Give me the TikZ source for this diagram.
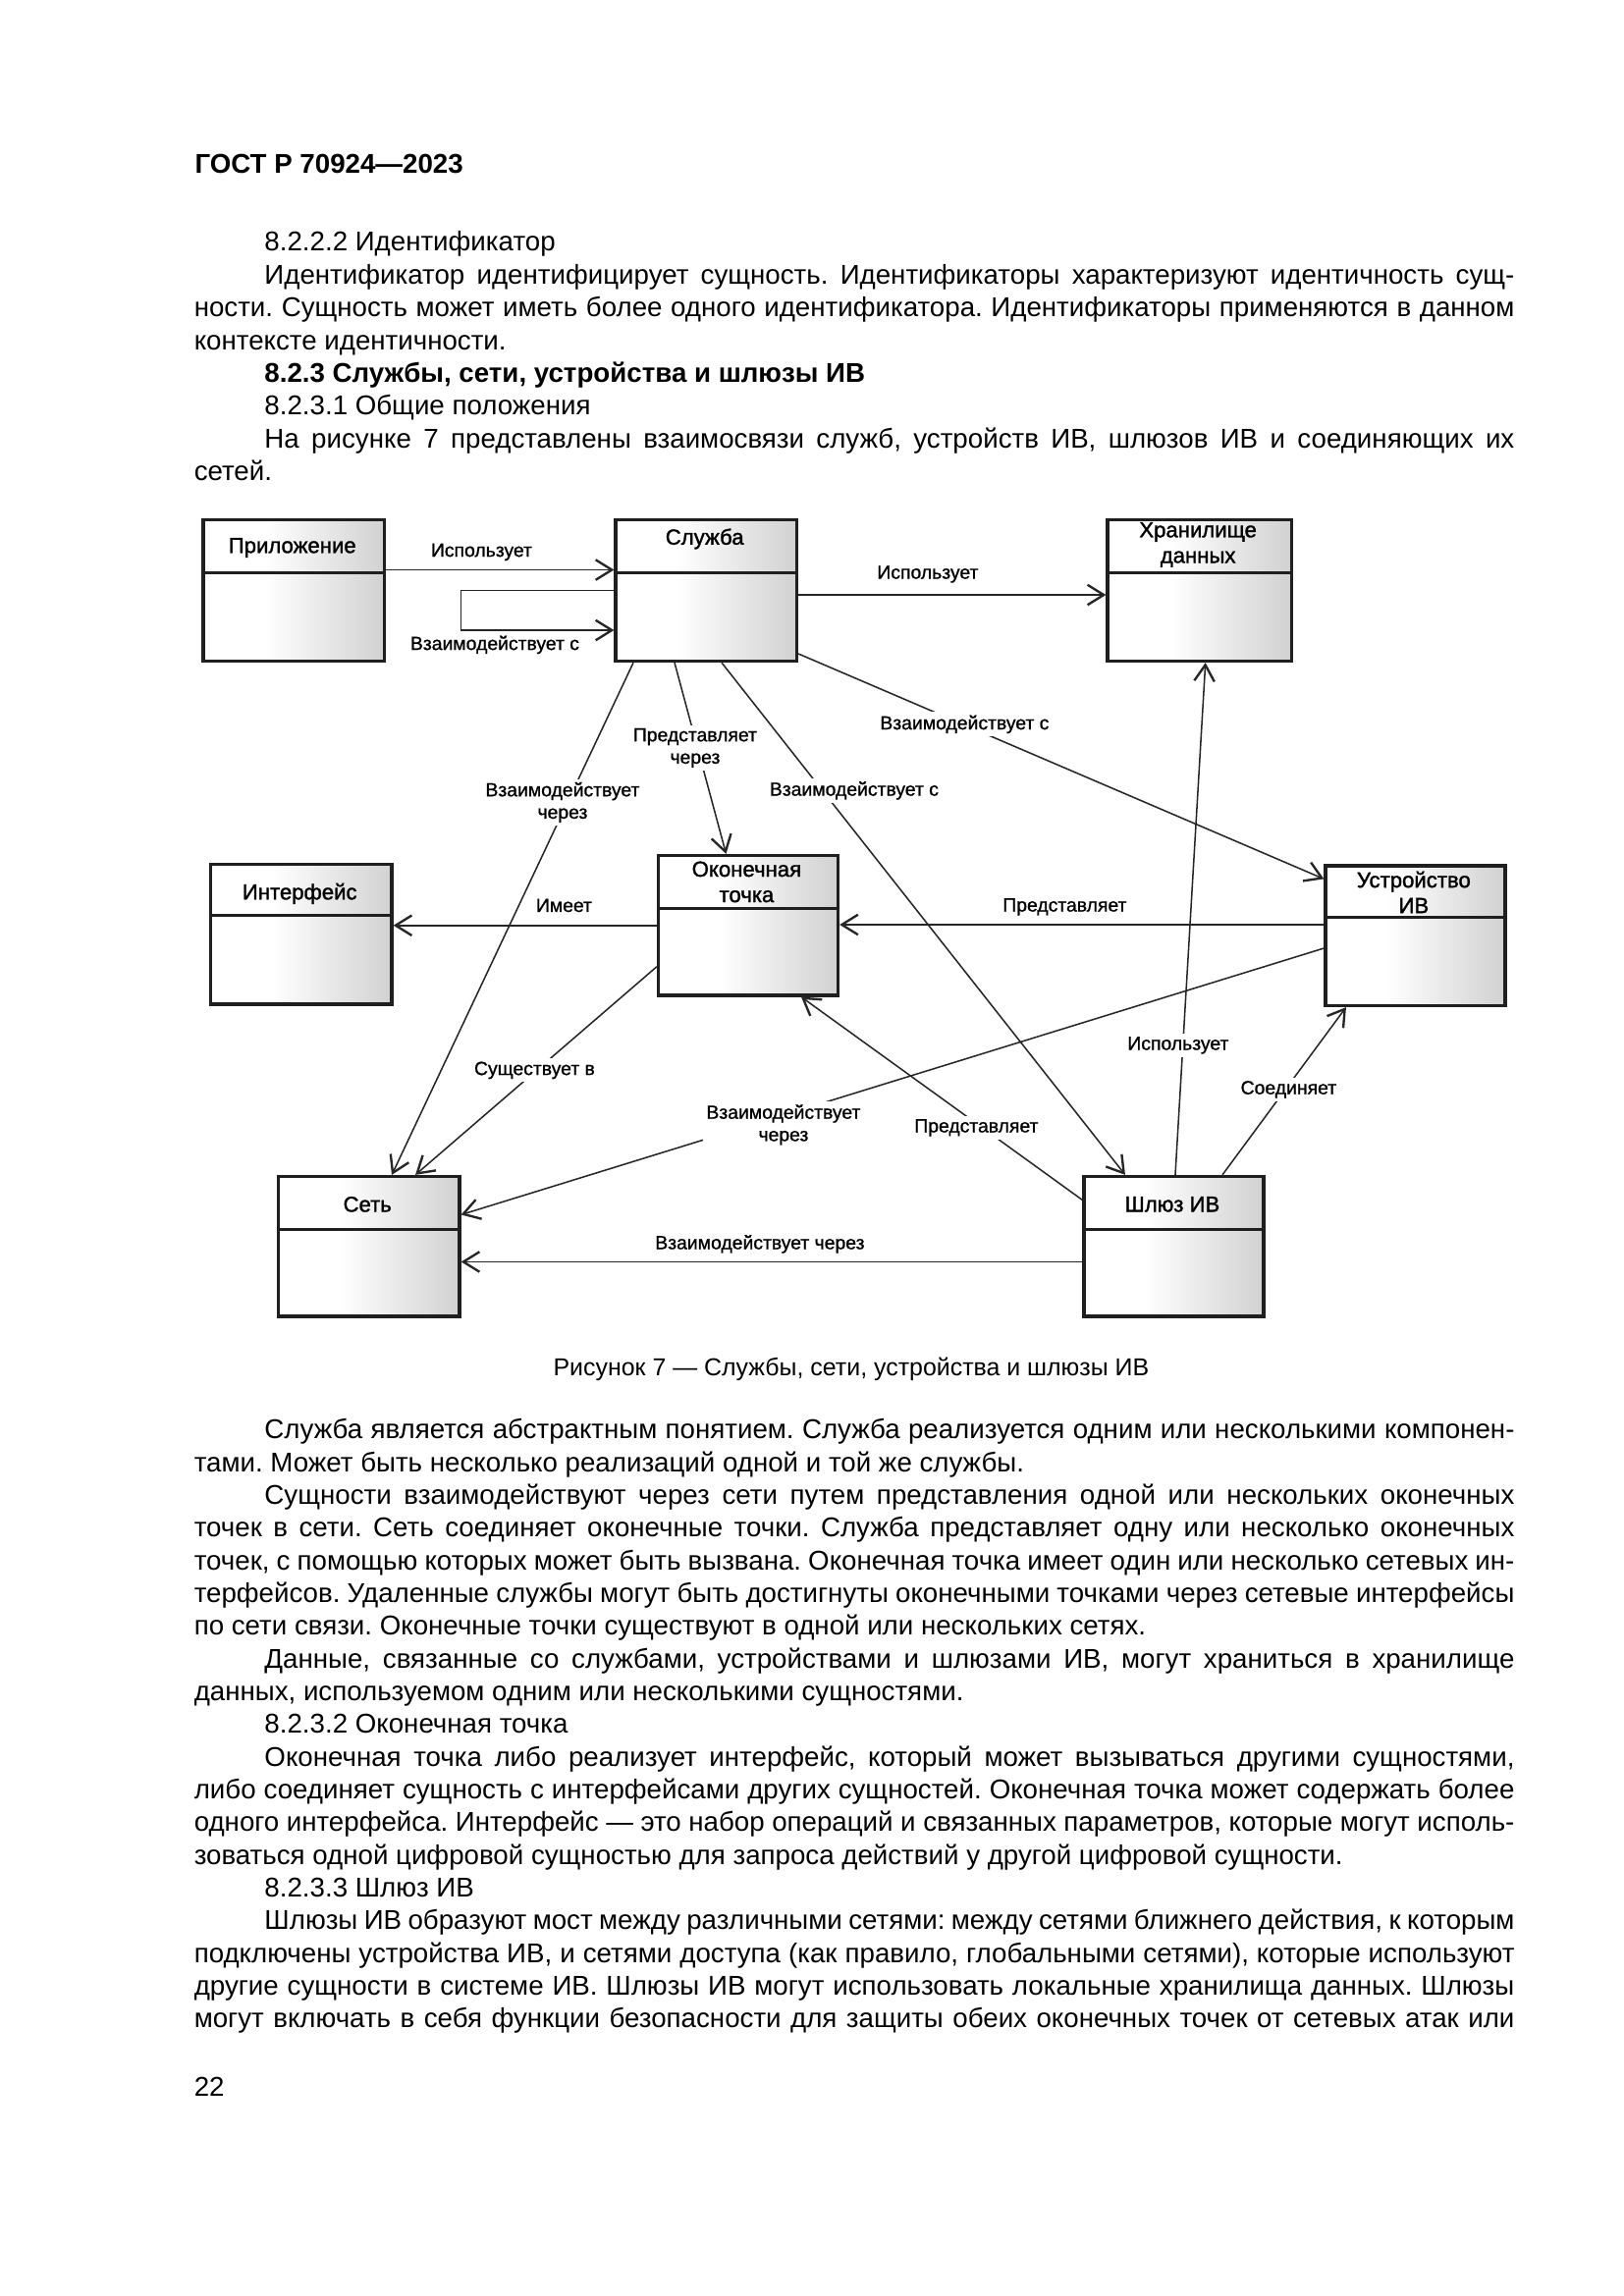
\documentclass[tikz,border=0pt]{standalone}
\usepackage{fontspec}
\setmainfont{Liberation Sans}
\newfontfamily\dfont[FakeBold=1.0]{Liberation Sans}
\newfontfamily\tfont[FakeBold=1.4]{Liberation Sans}
\usetikzlibrary{arrows.meta,calc}
\frenchspacing
\newlength\pu
\setlength\pu{0.19039mm}
\pgfdeclarehorizontalshading{boxshade}{100bp}{color(0bp)=(white); color(25bp)=(white); color(42bp)=(white); color(75bp)=(black!18); color(100bp)=(black!18)}
\newcommand\bodyf{\fontsize{10}{12}\selectfont}
\newcommand\mkbox[6]{%
  \node[umlbox, minimum width=#4*0.19039mm, minimum height=#5*0.19039mm] (#1) at (#2,#3) {};
  \draw[divline] ($(#1.north west)+(0,#6)$) -- ($(#1.north east)+(0,#6)$);}
\newcommand\tline[4]{\node[txt] (#1) at (#2,#3) {#4};}
\newcommand\jline[5]{\node[txt] (#1) at (#2,#3) {\makebox[#4\pu][s]{#5}};}
\tikzset{
  umlbox/.style={draw=black!88, line width=1.15pt, shading=boxshade, rectangle, inner sep=0pt, anchor=north west},
  divline/.style={draw=black!88, line width=1.15pt},
  btitle/.style={font=\tfont\fontsize{8}{9.4}\selectfont, align=center, inner sep=0pt},
  conn/.style={line width=0.55pt, draw=black!85, -{Straight Barb[length=2.1mm,width=2.6mm,line width=0.85pt]}},
  clabel/.style={font=\dfont\fontsize{7}{8.2}\selectfont, align=center, inner sep=1.2pt},
  clabelw/.style={clabel, fill=white},
  txt/.style={anchor=base west, inner sep=0pt, font=\bodyf}
}
\begin{document}
\begin{tikzpicture}[x=0.19039mm, y=-0.19039mm]
\fill[white] (0,0) rectangle (1102.7,1559.5);
\useasboundingbox (0,0) rectangle (1102.7,1559.5);

% ---------- page text (top) ----------
\tline{hdr}{132}{117.5}{\textbf{ГОСТ Р 70924—2023}}
\tline{p1}{179.3}{170.5}{8.2.2.2 Идентификатор}
\jline{p2}{179.3}{192.8}{848.7}{Идентификатор идентифицирует сущность. Идентификаторы характеризуют идентичность сущ-}
\jline{p3}{131.5}{215.1}{896.5}{ности. Сущность может иметь более одного идентификатора. Идентификаторы применяются в данном}
\tline{p4}{131.5}{237.4}{контексте идентичности.}
\tline{p5}{179.3}{259.7}{\textbf{8.2.3 Службы, сети, устройства и шлюзы ИВ}}
\tline{p6}{179.3}{282}{8.2.3.1 Общие положения}
\jline{p7}{179.3}{304.3}{848.7}{На рисунке 7 представлены взаимосвязи служб, устройств ИВ, шлюзов ИВ и соединяющих их}
\tline{p8}{131.5}{326.6}{сетей.}

% ---------- boxes ----------
\mkbox{pril}{137}{352}{123}{96}{37}
\mkbox{sluzh}{417}{352}{123}{96}{37}
\mkbox{hran}{751}{352}{125}{96}{37}
\mkbox{intf}{142}{586}{123}{95}{36}
\mkbox{okon}{446}{580}{122}{95}{37}
\mkbox{ustr}{899}{587}{122}{95}{36}
\mkbox{set}{188}{798}{123}{95}{37}
\mkbox{shluz}{735}{798}{122}{95}{37}

\node[btitle] (tpril) at (198.5,372) {Приложение};
\node[btitle] (tsluzh) at (478.5,366) {Служба};
\node[btitle] (thran) at (813.5,370) {Хранилище\\данных};
\node[btitle] (tintf) at (203.5,607) {Интерфейс};
\node[btitle] (tokon) at (507,599) {Оконечная\\точка};
\node[btitle] (tustr) at (960,606) {Устройство\\ИВ};
\node[btitle] (tset) at (249.5,818) {Сеть};
\node[btitle] (tshluz) at (796,818) {Шлюз ИВ};

% ---------- connectors ----------
\coordinate (c9) at ($(ustr.west)+(0,-7.5)$);
\coordinate (c15) at ($(shluz.west)+(0,10.5)$);
\draw[conn] ($(pril.east)+(0,-14)$) -- ($(sluzh.west)+(0,-14)$);
\draw[conn] (sluzh.west) -- ++(-104,0) -- ++(0,27) -- ($(sluzh.west)+(0,27)$);
\draw[conn] ($(sluzh.east)+(0,3)$) -- ($(hran.west)+(0,3)$);
\draw[conn] ($(sluzh.east)+(0,43)$) -- ($(ustr.north west)+(0,10)$);
\draw[conn] ($(sluzh.south)+(-21.5,0)$) -- ($(okon.north)+(-15,0)$);
\draw[conn] ($(sluzh.south)+(10.5,0)$) -- ($(shluz.north)+(-33,0)$);
\draw[conn] ($(sluzh.south)+(-49.5,0)$) -- ($(set.north)+(15.5,0)$);
\draw[conn] (okon.west) -- (okon.west -| intf.east);
\draw[conn] (c9) -- (c9 -| okon.east);
\draw[conn] ($(okon.west)+(0,28)$) -- ($(set.north)+(31.5,0)$);
\draw[conn] ($(ustr.west)+(0,8.5)$) -- ($(set.east)+(0,-21.5)$);
\draw[conn] ($(shluz.west)+(0,-31.5)$) -- ($(okon.south)+(36,0)$);
\draw[conn] ($(shluz.north)+(1,0)$) -- ($(hran.south)+(4,0)$);
\draw[conn] ($(shluz.north)+(33,0)$) -- ($(ustr.south)+(-47,0)$);
\draw[conn] (c15) -- (c15 -| set.east);

% ---------- connector labels ----------
\node[clabel] (l1) at (327,375) {Использует};
\node[clabel] (l2) at (336,438) {Взаимодействует с};
\node[clabel] (l3) at (630,390) {Использует};
\node[clabelw] (l4) at (655,492) {Взаимодействует с};
\node[clabelw] (l5) at (472,508) {Представляет\\через};
\node[clabelw] (l6) at (580,537) {Взаимодействует с};
\node[clabelw] (l7) at (382,545) {Взаимодействует\\через};
\node[clabel] (l8) at (383,615) {Имеет};
\node[clabel] (l9) at (723,616) {Представляет};
\node[clabelw] (l10) at (363,727) {Существует в};
\node[clabelw] (l11) at (532,764) {Взаимодействует\\через};
\node[clabelw] (l12) at (663,766) {Представляет};
\node[clabelw] (l13) at (800,710) {Использует};
\node[clabelw] (l14) at (875,740) {Соединяет};
\node[clabel] (l15) at (516,845) {Взаимодействует через};

% ---------- caption and page text (bottom) ----------
\node[txt, anchor=base, font=\fontsize{9}{11}\selectfont] (cap) at (578,934.5) {Рисунок 7 — Службы, сети, устройства и шлюзы ИВ};
\jline{q1}{179.3}{977.3}{848.7}{Служба является абстрактным понятием. Служба реализуется одним или несколькими компонен-}
\tline{q2}{131.5}{999.5}{тами. Может быть несколько реализаций одной и той же службы.}
\jline{q3}{179.3}{1021.7}{848.7}{Сущности взаимодействуют через сети путем представления одной или нескольких оконечных}
\jline{q4}{131.5}{1044}{896.5}{точек в сети. Сеть соединяет оконечные точки. Служба представляет одну или несколько оконечных}
\jline{q5}{131.5}{1066.2}{896.5}{точек, с помощью которых может быть вызвана. Оконечная точка имеет один или несколько сетевых ин-}
\jline{q6}{131.5}{1088.4}{896.5}{терфейсов. Удаленные службы могут быть достигнуты оконечными точками через сетевые интерфейсы}
\tline{q7}{131.5}{1110.6}{по сети связи. Оконечные точки существуют в одной или нескольких сетях.}
\jline{q8}{179.3}{1132.8}{848.7}{Данные, связанные со службами, устройствами и шлюзами ИВ, могут храниться в хранилище}
\tline{q9}{131.5}{1155.1}{данных, используемом одним или несколькими сущностями.}
\tline{q10}{179.3}{1177.3}{8.2.3.2 Оконечная точка}
\jline{q11}{179.3}{1199.5}{848.7}{Оконечная точка либо реализует интерфейс, который может вызываться другими сущностями,}
\jline{q12}{131.5}{1221.7}{896.5}{либо соединяет сущность с интерфейсами других сущностей. Оконечная точка может содержать более}
\jline{q13}{131.5}{1243.9}{896.5}{одного интерфейса. Интерфейс — это набор операций и связанных параметров, которые могут исполь-}
\tline{q14}{131.5}{1266.2}{зоваться одной цифровой сущностью для запроса действий у другой цифровой сущности.}
\tline{q15}{179.3}{1288.4}{8.2.3.3 Шлюз ИВ}
\jline{q16}{179.3}{1310.6}{848.7}{Шлюзы ИВ образуют мост между различными сетями: между сетями ближнего действия, к которым}
\jline{q17}{131.5}{1332.8}{896.5}{подключены устройства ИВ, и сетями доступа (как правило, глобальными сетями), которые используют}
\jline{q18}{131.5}{1355}{896.5}{другие сущности в системе ИВ. Шлюзы ИВ могут использовать локальные хранилища данных. Шлюзы}
\jline{q19}{131.5}{1377.3}{896.5}{могут включать в себя функции безопасности для защиты обеих оконечных точек от сетевых атак или}
\tline{pg}{131.5}{1424}{22}
\end{tikzpicture}
\end{document}
